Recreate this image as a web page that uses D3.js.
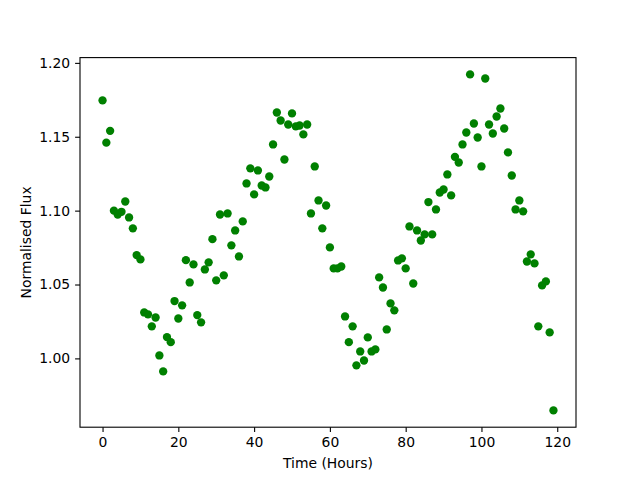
<!DOCTYPE html>
<html>
<head>
<meta charset="utf-8">
<script src="https://cdn.jsdelivr.net/npm/d3@7"></script>
<style>
  body { margin: 0; background: #fff; }
  svg { display: block; font-family: "DejaVu Sans", sans-serif; }
</style>
</head>
<body>
<div id="chart"></div>
<script>
// hourly flux readings, hour 0..119
const hours = d3.range(0, 120);
const flux = [
  1.1746, 1.146, 1.154, 1.100, 1.0974, 1.0992, 1.1062, 1.0954, 1.088, 1.0699,
  1.067, 1.0311, 1.0298, 1.0217, 1.0277, 1.002, 0.9912, 1.0144, 1.011, 1.0388,
  1.027, 1.0359, 1.0665, 1.0514, 1.0636, 1.0293, 1.0244, 1.0602, 1.065, 1.0807,
  1.0528, 1.0974, 1.0562, 1.0981, 1.0765, 1.0866, 1.069, 1.0927, 1.1184, 1.1286,
  1.111, 1.1272, 1.117, 1.1157, 1.1231, 1.1448, 1.1664, 1.161, 1.1346, 1.1583,
  1.1658, 1.157, 1.1576, 1.1516, 1.1583, 1.0981, 1.1299, 1.1069, 1.088, 1.1035,
  1.0751, 1.0609, 1.0609, 1.0622, 1.0284, 1.011, 1.0217, 0.9953, 1.0047, 0.9986,
  1.0142, 1.0047, 1.0061, 1.0548, 1.048, 1.0196, 1.0372, 1.0325, 1.0663, 1.0677,
  1.0609, 1.0893, 1.0507, 1.0866, 1.0798, 1.0839, 1.1058, 1.0839, 1.1008, 1.1123,
  1.1143, 1.1245, 1.1103, 1.1364, 1.1326, 1.1448, 1.1529, 1.1922, 1.159, 1.1495,
  1.1299, 1.1894, 1.1583, 1.1522, 1.1637, 1.1691, 1.1556, 1.1394, 1.1238, 1.1008,
  1.1069, 1.0995, 1.0656, 1.0704, 1.0643, 1.0217, 1.0494, 1.0521, 1.0176, 0.9648
];
const xTicks = [0, 20, 40, 60, 80, 100, 120];
const yTicks = [1.00, 1.05, 1.10, 1.15, 1.20];

const width = 640, height = 480;
const margin = { top: 57.6, right: 64, bottom: 52.8, left: 80 };

const svg = d3.select('#chart').append('svg')
  .attr('width', width)
  .attr('height', height);

// matplotlib-style 5% padding around the data
const xMin = d3.min(hours), xMax = d3.max(hours);
const yMin = d3.min(flux), yMax = d3.max(flux);
const xPad = (xMax - xMin) * 0.05, yPad = (yMax - yMin) * 0.05;

const x = d3.scaleLinear()
  .domain([xMin - xPad, xMax + xPad])
  .range([margin.left, width - margin.right]);
const y = d3.scaleLinear()
  .domain([yMin - yPad, yMax + yPad])
  .range([height - margin.bottom, margin.top]);

const tickFont = '13.9px';

// points
svg.append('g')
  .selectAll('circle')
  .data(hours)
  .enter()
  .append('circle')
  .attr('cx', function(d) { return x(d); })
  .attr('cy', function(d, i) { return y(flux[i]); })
  .attr('r', 4.17)
  .attr('fill', '#008000');

// axes
const xAxis = svg.append('g')
  .attr('transform', 'translate(0,' + (height - margin.bottom) + ')')
  .call(d3.axisBottom(x).tickValues(xTicks).tickSize(4.9).tickPadding(4.9).tickSizeOuter(0));
const yAxis = svg.append('g')
  .attr('transform', 'translate(' + margin.left + ',0)')
  .call(d3.axisLeft(y).tickValues(yTicks).tickFormat(d3.format('.2f')).tickSize(4.9).tickPadding(4.9).tickSizeOuter(0));

[xAxis, yAxis].forEach(function(a) {
  a.select('.domain').remove();
  a.selectAll('line').attr('stroke', '#000').attr('stroke-width', 1.1);
  a.selectAll('text')
    .attr('fill', '#000')
    .style('font-family', '"DejaVu Sans", sans-serif')
    .style('font-size', tickFont);
});

// frame
svg.append('rect')
  .attr('x', margin.left)
  .attr('y', margin.top)
  .attr('width', width - margin.left - margin.right)
  .attr('height', height - margin.top - margin.bottom)
  .attr('fill', 'none')
  .attr('stroke', '#000')
  .attr('stroke-width', 1.1);

// labels
svg.append('text')
  .attr('x', (margin.left + width - margin.right) / 2)
  .attr('y', 468)
  .attr('text-anchor', 'middle')
  .style('font-size', tickFont)
  .text('Time (Hours)');

svg.append('text')
  .attr('transform', 'translate(31,' + ((margin.top + height - margin.bottom) / 2) + ') rotate(-90)')
  .attr('text-anchor', 'middle')
  .style('font-size', tickFont)
  .text('Normalised Flux');
</script>
</body>
</html>
